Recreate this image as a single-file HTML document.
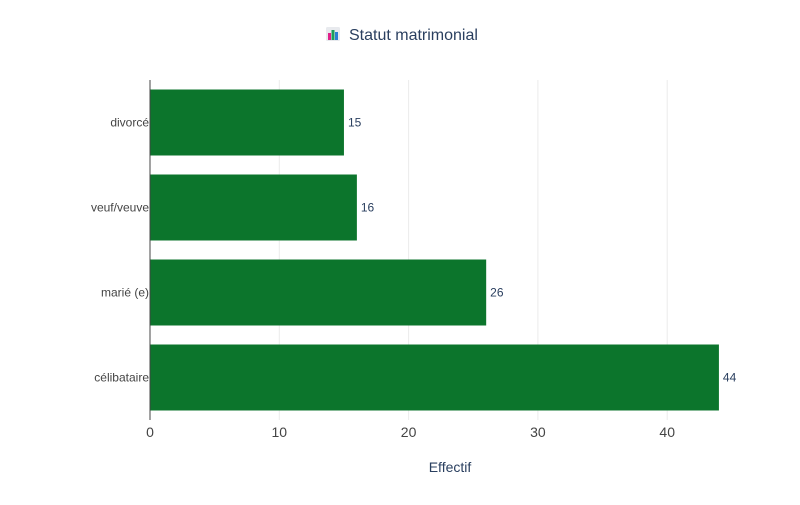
<!DOCTYPE html>
<html><head><meta charset="utf-8"><style>
body{margin:0;background:#fff;font-family:"Liberation Sans",Arial,sans-serif}
</style></head><body>
<svg id="chart" width="800" height="500">
<rect width="800" height="500" fill="#fff"/>
<g>
<g transform="translate(326,27)">
<rect x="0" y="0" width="14" height="14" rx="1.5" fill="#e8eaee"/>
<rect x="2" y="6" width="3" height="7" fill="#e0218a"/>
<rect x="5.5" y="3" width="3" height="10" fill="#1a9e5c"/>
<rect x="9" y="5" width="3" height="8" fill="#2a7fd4"/>
</g>
<text x="349" y="40" font-size="16" fill="#2a3f5f">Statut matrimonial</text>
</g>
<g id="grid"></g><g id="bars"></g><g id="axes"></g>
<text x="450" y="472" font-size="14" fill="#2a3f5f" text-anchor="middle">Effectif</text>
</svg>
<script>
const categories=["divorcé","veuf/veuve","marié (e)","célibataire"];
const values=[15,16,26,44];
const ticks=[0,10,20,30,40];
const ns="http://www.w3.org/2000/svg";
const x0=150,pxPerUnit=12.93,plotTop=80,band=85,barH=66;
const xs=v=>x0+v*pxPerUnit;
function mk(t,a,p,txt){const e=document.createElementNS(ns,t);for(const k in a)e.setAttribute(k,a[k]);if(txt!=null)e.textContent=txt;p.appendChild(e);return e;}
const grid=document.getElementById('grid'),bars=document.getElementById('bars'),axes=document.getElementById('axes');
ticks.forEach(t=>{
 if(t>0){const g=mk('line',{x1:xs(t),x2:xs(t),y1:plotTop,y2:plotTop+band*categories.length,stroke:'#ebebeb'},grid);
 
 }
 const l=mk('text',{x:xs(t),y:437,'font-size':14,fill:'#444','text-anchor':'middle'},axes,String(t));
 
 
});
categories.forEach((c,i)=>{
 const y=plotTop+i*band+(band-barH)/2;
 const r=mk('rect',{x:x0,y:y,width:xs(values[i])-x0,height:barH,fill:'#0c752c'},bars);
 
 
 const v=mk('text',{x:xs(values[i])+4,y:y+barH/2+4,'font-size':12,fill:'#2a3f5f'},bars,String(values[i]));
 
 
 const l=mk('text',{x:x0-1,y:y+barH/2+4,'font-size':12,fill:'#444','text-anchor':'end'},axes,c);
 
 
});
const ax=mk('line',{x1:x0,x2:x0,y1:plotTop,y2:plotTop+band*categories.length,stroke:'#444','stroke-width':1},axes);


</script>
</body></html>
